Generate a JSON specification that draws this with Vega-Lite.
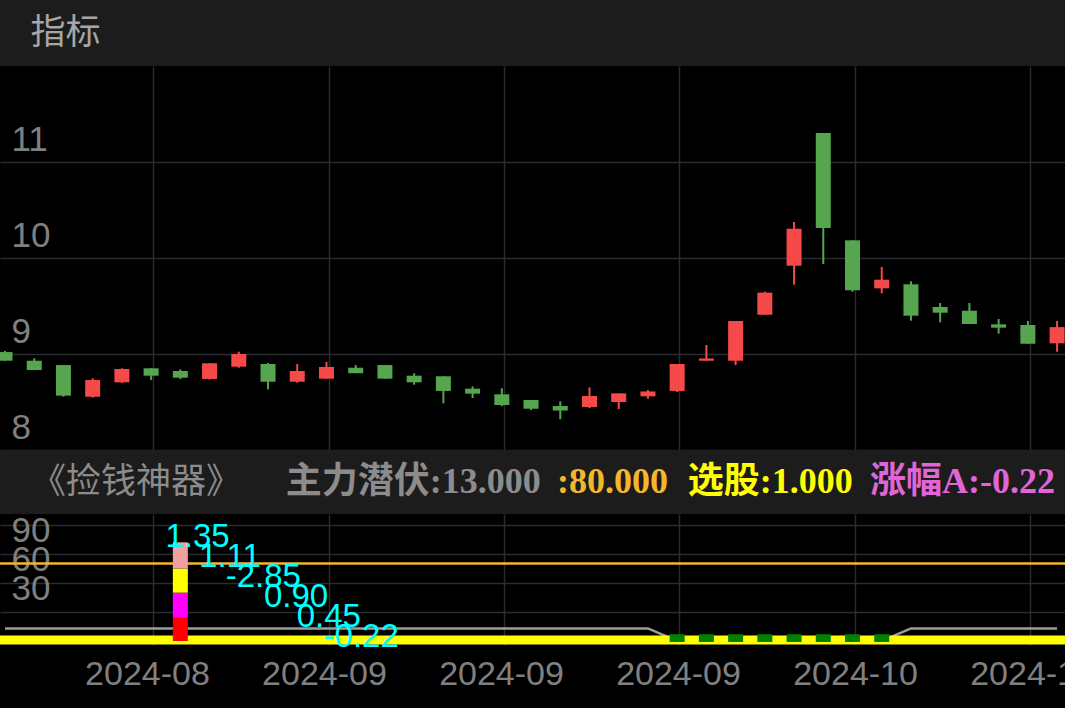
{
  "$schema": "https://vega.github.io/schema/vega-lite/v6.json",
  "background": "#000000",
  "padding": 0,
  "spacing": 0,
  "bounds": "flush",
  "config": {
    "view": {"stroke": null},
    "axis": {
      "gridColor": "#2b2b33",
      "gridWidth": 1.5,
      "domain": false,
      "ticks": false,
      "tickSize": 0,
      "labelFont": "Liberation Sans",
      "labelFontSize": 35,
      "labelColor": "#808080",
      "labelOverlap": false,
      "labelFlush": false,
      "labelBound": false
    }
  },
  "datasets": {
    "candles": [
      {"i": 0, "o": 9.02, "c": 8.93, "h": 9.03, "l": 8.93, "zl": 13},
      {"i": 1, "o": 8.93, "c": 8.833, "h": 8.955, "l": 8.833, "zl": 13},
      {"i": 2, "o": 8.885, "c": 8.566, "h": 8.885, "l": 8.555, "zl": 13},
      {"i": 3, "o": 8.555, "c": 8.729, "h": 8.747, "l": 8.545, "zl": 13},
      {"i": 4, "o": 8.705, "c": 8.844, "h": 8.851, "l": 8.7, "zl": 13},
      {"i": 5, "o": 8.851, "c": 8.774, "h": 8.851, "l": 8.729, "zl": 13},
      {"i": 6, "o": 8.823, "c": 8.753, "h": 8.84, "l": 8.74, "zl": 13},
      {"i": 7, "o": 8.74, "c": 8.903, "h": 8.906, "l": 8.733, "zl": 13},
      {"i": 8, "o": 8.868, "c": 9.0, "h": 9.024, "l": 8.857, "zl": 13},
      {"i": 9, "o": 8.896, "c": 8.711, "h": 8.906, "l": 8.632, "zl": 13},
      {"i": 10, "o": 8.711, "c": 8.823, "h": 8.896, "l": 8.701, "zl": 13},
      {"i": 11, "o": 8.743, "c": 8.865, "h": 8.917, "l": 8.743, "zl": 13},
      {"i": 12, "o": 8.857, "c": 8.8, "h": 8.885, "l": 8.8, "zl": 13},
      {"i": 13, "o": 8.885, "c": 8.743, "h": 8.885, "l": 8.743, "zl": 13},
      {"i": 14, "o": 8.774, "c": 8.705, "h": 8.8, "l": 8.68, "zl": 13},
      {"i": 15, "o": 8.768, "c": 8.615, "h": 8.768, "l": 8.486, "zl": 13},
      {"i": 16, "o": 8.639, "c": 8.587, "h": 8.663, "l": 8.542, "zl": 13},
      {"i": 17, "o": 8.58, "c": 8.469, "h": 8.643, "l": 8.458, "zl": 13},
      {"i": 18, "o": 8.521, "c": 8.43, "h": 8.521, "l": 8.417, "zl": 13},
      {"i": 19, "o": 8.458, "c": 8.411, "h": 8.507, "l": 8.32, "zl": 13},
      {"i": 20, "o": 8.448, "c": 8.5625, "h": 8.653, "l": 8.4375, "zl": 13},
      {"i": 21, "o": 8.5, "c": 8.59, "h": 8.59, "l": 8.427, "zl": 13},
      {"i": 22, "o": 8.559, "c": 8.61, "h": 8.625, "l": 8.534, "zl": 13},
      {"i": 23, "o": 8.615, "c": 8.896, "h": 8.896, "l": 8.604, "zl": 0},
      {"i": 24, "o": 8.93, "c": 8.953, "h": 9.094, "l": 8.93, "zl": 0},
      {"i": 25, "o": 8.93, "c": 9.344, "h": 9.344, "l": 8.885, "zl": 0},
      {"i": 26, "o": 9.409, "c": 9.639, "h": 9.649, "l": 9.409, "zl": 0},
      {"i": 27, "o": 9.92, "c": 10.305, "h": 10.375, "l": 9.722, "zl": 0},
      {"i": 28, "o": 11.302, "c": 10.3125, "h": 11.302, "l": 9.9375, "zl": 0},
      {"i": 29, "o": 10.184, "c": 9.664, "h": 10.184, "l": 9.649, "zl": 0},
      {"i": 30, "o": 9.684, "c": 9.774, "h": 9.906, "l": 9.632, "zl": 0},
      {"i": 31, "o": 9.726, "c": 9.399, "h": 9.757, "l": 9.347, "zl": 13},
      {"i": 32, "o": 9.49, "c": 9.43, "h": 9.531, "l": 9.33, "zl": 13},
      {"i": 33, "o": 9.451, "c": 9.3125, "h": 9.531, "l": 9.3125, "zl": 13},
      {"i": 34, "o": 9.309, "c": 9.274, "h": 9.365, "l": 9.212, "zl": 13},
      {"i": 35, "o": 9.302, "c": 9.107, "h": 9.344, "l": 9.107, "zl": 13},
      {"i": 36, "o": 9.111, "c": 9.28, "h": 9.344, "l": 9.024, "zl": 13}
    ],
    "stack": [
      {"i": 6, "k": 1, "v": 24},
      {"i": 6, "k": 2, "v": 26},
      {"i": 6, "k": 3, "v": 25},
      {"i": 6, "k": 4, "v": 27}
    ],
    "zf": [
      {"i": 5.49, "y": 96.7, "t": "1.35"},
      {"i": 6.64, "y": 76.5, "t": "1.11"},
      {"i": 7.55, "y": 55.8, "t": "-2.85"},
      {"i": 8.86, "y": 35.2, "t": "0.90"},
      {"i": 9.98, "y": 14.5, "t": "0.45"},
      {"i": 10.9, "y": -6.2, "t": "-0.22"}
    ],
    "ticks": [
      {"i": 5, "t": "2024-08"},
      {"i": 11, "t": "2024-09"},
      {"i": 17, "t": "2024-09"},
      {"i": 23, "t": "2024-09"},
      {"i": 29, "t": "2024-10"},
      {"i": 35, "t": "2024-10"}
    ]
  },
  "vconcat": [
    {
      "width": 1065,
      "height": 66,
      "view": {"fill": "#1c1c1c", "stroke": null},
      "data": {"values": [{"t": "指标"}]},
      "mark": {"type": "text", "align": "left", "baseline": "middle", "font": "Noto Sans CJK SC", "fontSize": 35, "color": "#a6a6a6"},
      "encoding": {
        "x": {"datum": 1.03, "type": "quantitative", "scale": {"domain": [0, 36.1], "nice": false, "zero": false}, "axis": null},
        "text": {"field": "t"}
      }
    },
    {
      "width": 1065,
      "height": 384,
      "data": {"name": "candles"},
      "resolve": {"axis": {"x": "independent", "y": "independent"}},
      "encoding": {
        "color": {"condition": {"test": "datum.c >= datum.o", "value": "#f64a4a"}, "value": "#55a64f"}
      },
      "layer": [
        {
          "mark": {"type": "rule", "strokeWidth": 2, "clip": true},
          "encoding": {
            "x": {"field": "i", "type": "quantitative", "scale": {"domain": [0, 36.1], "nice": false, "zero": false},
              "axis": {"values": [5.08, 11.08, 17.08, 23.08, 29.08, 35.08], "labels": false, "grid": true, "title": null, "orient": "bottom"}},
            "y": {"field": "l", "type": "quantitative", "scale": {"domain": [8, 12], "nice": false, "zero": false},
              "axis": {"values": [8, 9, 10, 11], "format": "d", "orient": "left", "grid": true, "title": null, "labelAlign": "left", "labelPadding": -11, "labelOffset": -23, "labelBaseline": "middle", "labelOverlap": false}},
            "y2": {"field": "h"}
          }
        },
        {
          "mark": {"type": "bar", "size": 15, "clip": true, "orient": "vertical"},
          "encoding": {
            "x": {"field": "i", "type": "quantitative", "axis": null},
            "y": {"field": "o", "type": "quantitative", "axis": null},
            "y2": {"field": "c"}
          }
        }
      ]
    },
    {
      "width": 1065,
      "height": 64,
      "view": {"fill": "#1c1c1c", "stroke": null},
      "layer": [
        {
          "data": {"values": [{"t": "《捡钱神器》"}]},
          "mark": {"type": "text", "align": "left", "baseline": "middle", "font": "Noto Sans CJK SC", "fontSize": 35, "color": "#8c8c8c"},
          "encoding": {
            "x": {"datum": 1.05, "type": "quantitative", "scale": {"domain": [0, 36.1], "nice": false, "zero": false}, "axis": null},
            "text": {"field": "t"}
          }
        },
        {
          "data": {"values": [{"t": "主力潜伏:13.000"}]},
          "mark": {"type": "text", "align": "left", "baseline": "middle", "font": "Liberation Serif, Noto Sans CJK SC", "fontWeight": "bold", "fontSize": 36, "color": "#8c8c8c"},
          "encoding": {"x": {"datum": 9.69, "type": "quantitative", "axis": null}, "text": {"field": "t"}}
        },
        {
          "data": {"values": [{"t": ":80.000"}]},
          "mark": {"type": "text", "align": "left", "baseline": "middle", "font": "Liberation Serif, Noto Sans CJK SC", "fontWeight": "bold", "fontSize": 36, "color": "#f4b62c"},
          "encoding": {"x": {"datum": 18.88, "type": "quantitative", "axis": null}, "text": {"field": "t"}}
        },
        {
          "data": {"values": [{"t": "选股:1.000"}]},
          "mark": {"type": "text", "align": "left", "baseline": "middle", "font": "Liberation Serif, Noto Sans CJK SC", "fontWeight": "bold", "fontSize": 36, "color": "#ffff00"},
          "encoding": {"x": {"datum": 23.31, "type": "quantitative", "axis": null}, "text": {"field": "t"}}
        },
        {
          "data": {"values": [{"t": "涨幅A:-0.22"}]},
          "mark": {"type": "text", "align": "left", "baseline": "middle", "font": "Liberation Serif, Noto Sans CJK SC", "fontWeight": "bold", "fontSize": 36, "color": "#e066d8", "clip": true},
          "encoding": {"x": {"datum": 29.49, "type": "quantitative", "axis": null}, "text": {"field": "t"}}
        }
      ]
    },
    {
      "width": 1065,
      "height": 131,
      "resolve": {"axis": {"x": "independent", "y": "independent"}},
      "layer": [
        {
          "data": {"name": "candles"},
          "mark": {"type": "line", "color": "#9c9c9c", "strokeWidth": 2.5, "clip": true},
          "encoding": {
            "x": {"field": "i", "type": "quantitative", "scale": {"domain": [0, 36.1], "nice": false, "zero": false},
              "axis": {"values": [5.08, 11.08, 17.08, 23.08, 29.08, 35.08], "labels": false, "grid": true, "title": null, "orient": "bottom"}},
            "y": {"field": "zl", "type": "quantitative", "scale": {"domain": [-4.14, 131.3], "nice": false, "zero": false},
              "axis": {"values": [0, 30, 60, 90, 120], "orient": "left", "grid": true, "title": null, "labelAlign": "left", "labelPadding": -11, "labelOffset": -23, "labelBaseline": "middle", "labelOverlap": false,
                "labelExpr": "datum.value >= 30 && datum.value <= 90 ? datum.label : ''"}}
          }
        },
        {
          "data": {"values": [{}]},
          "mark": {"type": "rule", "color": "#f4b62c", "strokeWidth": 2.5, "clip": true},
          "encoding": {"y": {"datum": 80, "type": "quantitative", "axis": null}}
        },
        {
          "data": {"values": [{}]},
          "mark": {"type": "rule", "color": "#ffff00", "strokeWidth": 9, "clip": true},
          "encoding": {"y": {"datum": 1, "type": "quantitative", "axis": null}}
        },
        {
          "data": {"name": "candles"},
          "transform": [{"filter": "datum.zl == 0"}],
          "mark": {"type": "bar", "size": 15, "color": "#008000", "orient": "vertical"},
          "encoding": {
            "x": {"field": "i", "type": "quantitative", "axis": null},
            "y": {"datum": -1, "type": "quantitative", "axis": null},
            "y2": {"datum": 7}
          }
        },
        {
          "data": {"name": "stack"},
          "mark": {"type": "bar", "size": 15, "orient": "vertical"},
          "encoding": {
            "x": {"field": "i", "type": "quantitative", "axis": null},
            "y": {"field": "v", "type": "quantitative", "stack": "zero", "axis": null},
            "color": {"field": "k", "type": "ordinal", "scale": {"domain": [1, 2, 3, 4], "range": ["#ff0000", "#ff00ff", "#ffff00", "#f0a0a0"]}, "legend": null},
            "order": {"field": "k", "type": "quantitative"}
          }
        },
        {
          "data": {"name": "zf"},
          "mark": {"type": "text", "align": "left", "baseline": "alphabetic", "font": "Liberation Sans", "fontSize": 33, "color": "#00ffff"},
          "encoding": {
            "x": {"field": "i", "type": "quantitative", "axis": null},
            "y": {"field": "y", "type": "quantitative", "axis": null},
            "text": {"field": "t"}
          }
        }
      ]
    },
    {
      "width": 1065,
      "height": 63,
      "data": {"name": "ticks"},
      "mark": {"type": "text", "clip": true, "align": "center", "baseline": "middle", "dy": -1.5, "font": "Liberation Sans", "fontSize": 34, "color": "#808080"},
      "encoding": {
        "x": {"field": "i", "type": "quantitative", "scale": {"domain": [0, 36.1], "nice": false, "zero": false}, "axis": null},
        "text": {"field": "t"}
      }
    }
  ]
}
